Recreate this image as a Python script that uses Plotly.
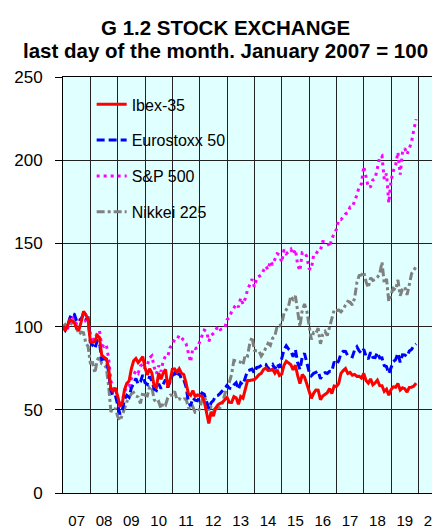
import plotly.graph_objects as go
import pandas as pd

# Monthly observations, Jan 2007 - Dec 2019 (January 2007 = 100)
months = pd.date_range("2007-01-01", "2019-12-01", freq="MS")

ibex = [
    100.0, 97.8, 100.6, 104.1, 103.5, 102.3, 98.6, 98.1, 103.0, 109.2, 107.3, 104.3,
    90.9, 90.5, 91.2, 94.8, 93.5, 82.8, 81.6, 80.4, 75.5, 62.6, 61.2, 63.2,
    58.1, 52.4, 53.7, 62.1, 65.9, 67.3, 74.6, 79.4, 80.8, 78.4, 80.0, 82.0,
    75.2, 71.0, 74.7, 72.1, 64.3, 63.6, 72.1, 68.3, 72.2, 74.3, 63.7, 67.7,
    74.3, 74.6, 72.7, 74.7, 72.0, 71.2, 66.2, 59.9, 58.7, 61.5, 58.1, 58.9,
    58.5, 58.2, 55.0, 48.2, 41.8, 48.8, 46.3, 51.0, 53.0, 53.9, 54.5, 56.1,
    57.5, 54.5, 54.4, 57.9, 57.2, 53.3, 58.0, 57.0, 63.1, 67.6, 67.6, 68.1,
    68.2, 69.5, 71.1, 71.9, 74.2, 75.1, 73.6, 73.7, 74.4, 72.0, 74.0, 70.6,
    71.5, 76.8, 79.2, 78.2, 77.1, 74.0, 76.8, 70.5, 65.7, 71.2, 69.7, 65.6,
    60.6, 56.9, 59.9, 61.9, 61.8, 56.1, 58.3, 59.5, 60.3, 62.8, 59.7, 64.3,
    64.0, 65.7, 71.9, 73.6, 74.8, 71.8, 72.5, 70.8, 71.3, 70.1, 70.2, 69.0,
    71.8, 67.6, 66.0, 68.6, 65.0, 66.1, 67.8, 64.6, 64.5, 61.1, 62.4, 58.7,
    62.2, 63.8, 63.5, 65.8, 61.9, 63.2, 62.7, 60.6, 63.5, 63.6, 64.3, 66.0,
]

eurostoxx = [
    100.0, 97.8, 100.1, 105.1, 108.0, 107.4, 103.3, 102.8, 104.8, 107.4, 105.2, 105.3,
    90.8, 89.1, 86.8, 91.6, 90.4, 80.2, 80.6, 80.5, 72.7, 62.0, 58.2, 58.6,
    53.5, 47.3, 49.6, 56.3, 58.7, 57.5, 63.1, 66.4, 68.8, 65.4, 66.9, 71.0,
    66.4, 65.3, 70.1, 67.4, 62.5, 61.6, 65.6, 62.8, 65.8, 68.1, 63.4, 66.8,
    70.7, 72.1, 69.7, 72.1, 68.5, 68.2, 63.9, 55.1, 52.2, 57.1, 55.8, 55.4,
    57.8, 60.1, 59.3, 55.2, 50.7, 54.2, 55.6, 58.4, 58.7, 59.9, 61.6, 63.1,
    64.7, 63.0, 62.8, 64.9, 66.3, 62.3, 66.2, 65.1, 69.2, 73.4, 73.9, 74.4,
    72.1, 75.4, 75.7, 76.5, 77.7, 77.3, 74.6, 75.9, 77.2, 74.5, 77.8, 75.3,
    80.2, 86.1, 88.5, 86.5, 85.4, 81.9, 86.2, 78.3, 74.2, 81.8, 83.9, 78.2,
    72.9, 70.5, 71.9, 72.5, 73.3, 68.6, 71.6, 72.3, 71.8, 73.1, 73.0, 78.8,
    77.3, 79.4, 83.8, 85.2, 85.1, 82.4, 82.5, 81.9, 86.0, 87.9, 85.4, 83.9,
    86.4, 82.3, 80.5, 84.6, 81.5, 81.3, 84.4, 81.2, 81.3, 76.5, 75.9, 71.8,
    75.6, 78.9, 80.2, 84.1, 78.5, 83.1, 83.0, 82.0, 85.4, 86.3, 88.6, 89.6,
]

sp500 = [
    100.0, 97.8, 98.8, 103.1, 106.4, 104.5, 101.2, 102.5, 106.2, 107.7, 103.0, 102.1,
    95.8, 92.5, 92.0, 96.3, 97.4, 89.0, 88.1, 89.2, 81.1, 67.4, 62.3, 62.8,
    57.4, 51.1, 55.5, 60.7, 63.9, 63.9, 68.7, 71.0, 73.5, 72.0, 76.2, 77.5,
    74.7, 76.8, 81.3, 82.5, 75.7, 71.7, 76.6, 73.0, 79.3, 82.3, 82.1, 87.4,
    89.4, 92.3, 92.2, 94.8, 93.5, 91.8, 89.9, 84.7, 78.7, 87.1, 86.7, 87.4,
    91.3, 95.0, 97.9, 97.2, 91.1, 94.7, 95.9, 97.8, 100.2, 98.2, 98.5, 99.2,
    104.2, 105.3, 109.1, 111.1, 113.4, 111.7, 117.2, 113.5, 116.9, 122.1, 125.6, 128.5,
    123.9, 129.3, 130.2, 131.0, 133.7, 136.3, 134.2, 139.3, 137.1, 140.3, 143.8, 143.2,
    138.7, 146.3, 143.8, 145.0, 146.5, 143.4, 146.3, 137.1, 133.5, 144.6, 144.6, 142.1,
    134.9, 134.3, 143.2, 143.6, 145.8, 145.9, 151.1, 150.9, 150.8, 147.8, 152.9, 155.7,
    158.4, 164.3, 164.3, 165.8, 167.7, 168.5, 171.8, 171.9, 175.2, 179.1, 184.1, 185.9,
    196.3, 188.7, 183.6, 184.1, 188.1, 189.0, 195.8, 201.7, 202.6, 188.5, 191.9, 174.3,
    188.0, 193.6, 197.1, 204.8, 191.3, 204.5, 207.2, 203.5, 207.0, 211.2, 218.4, 224.6,
]

nikkei = [
    100.0, 101.3, 99.5, 100.1, 102.8, 104.3, 99.2, 95.3, 96.6, 96.3, 90.2, 88.1,
    78.2, 78.3, 72.1, 79.7, 82.5, 77.6, 77.0, 75.2, 64.8, 49.3, 49.0, 51.0,
    46.0, 43.5, 46.7, 50.8, 54.8, 57.3, 59.6, 60.4, 58.3, 57.7, 53.8, 60.7,
    58.7, 58.3, 63.8, 63.6, 56.2, 54.0, 54.9, 50.8, 53.9, 52.9, 57.2, 58.8,
    58.9, 61.1, 56.1, 56.7, 55.8, 56.5, 56.6, 51.5, 50.0, 51.7, 48.5, 48.6,
    50.6, 55.9, 58.0, 54.8, 49.1, 51.8, 50.0, 50.9, 51.0, 51.4, 54.3, 59.8,
    64.1, 66.5, 71.3, 79.7, 79.2, 78.7, 78.6, 77.0, 83.2, 82.4, 90.1, 93.7,
    85.8, 85.4, 85.3, 82.3, 84.2, 87.2, 89.9, 88.7, 93.0, 94.4, 100.4, 100.4,
    101.7, 108.1, 110.5, 112.3, 118.3, 116.4, 118.4, 108.7, 100.0, 109.8, 113.6, 109.5,
    100.8, 92.2, 96.4, 95.9, 99.1, 89.6, 95.3, 97.1, 94.6, 100.2, 105.3, 110.0,
    109.5, 110.0, 108.8, 110.4, 113.0, 115.2, 114.6, 113.0, 117.1, 126.6, 130.7, 131.0,
    132.9, 127.0, 123.4, 129.3, 127.7, 128.3, 129.7, 131.5, 138.8, 126.1, 128.6, 115.1,
    119.5, 123.0, 122.0, 128.1, 118.5, 122.4, 123.8, 119.1, 125.2, 131.9, 134.0, 136.1,
]

year_labels = ["07", "08", "09", "10", "11", "12", "13", "14", "15", "16", "17", "18", "19", "20"]
years = list(range(2007, 2021))

# decimal-year position of each monthly observation
xpos = [d.year + (d.month - 1) / 12 for d in months]

FONT = "Liberation Sans, Arial, sans-serif"

series = [
    ("Ibex-35", ibex, "#FF0000", "solid", 1),
    ("Eurostoxx 50", eurostoxx, "#0000FF", "8px,4px", 2),
    ("S&P 500", sp500, "#FF00FF", "3px,4px", 3),
    ("Nikkei 225", nikkei, "#808080", "8px,3px,3px,3px", 4),
]

fig = go.Figure()
for name, vals, color, dash, rank in reversed(series):
    fig.add_trace(go.Scatter(
        x=xpos, y=vals, mode="lines", name=name,
        line=dict(color=color, width=3, dash=dash),
        legendgroup=name, legendrank=rank,
    ))

# page body has an 8px margin; figure is sized so the page matches 440x529
W, H = 432, 521
L, T, B = 55, 69, 29
PW, PH = W - L, H - T - B

grid_col = "#222222"
fig.update_layout(
    width=W, height=H,
    margin=dict(l=L, r=0, t=T, b=B, pad=0),
    paper_bgcolor="white",
    plot_bgcolor="#E0FFFF",
    font=dict(family=FONT, size=15, color="black"),
    showlegend=True,
    legend=dict(
        x=0.076, y=0.975, xanchor="left", yanchor="top",
        bgcolor="rgba(0,0,0,0)", font=dict(size=16, family=FONT),
        tracegroupgap=12,
    ),
    xaxis=dict(
        range=[2007, 2007 + PW / 27.34],
        tickmode="array",
        tickvals=[y + 0.5 for y in years],
        ticktext=year_labels,
        ticks="", showgrid=False, zeroline=False,
        showline=True, linecolor="black", linewidth=1, mirror=True,
        tickfont=dict(size=15, family=FONT),
        ticklabelstandoff=14,
        ticklabeloverflow="allow",
        minor=dict(tickvals=years[1:], showgrid=True, gridcolor=grid_col, gridwidth=1, ticks=""),
    ),
    yaxis=dict(
        range=[0, 250], tickmode="linear", tick0=0, dtick=50,
        ticks="outside", ticklen=7, tickcolor="black", tickwidth=1,
        showgrid=True, gridcolor=grid_col, gridwidth=1, zeroline=False,
        showline=True, linecolor="black", linewidth=1,
        tickfont=dict(size=17, family=FONT),
        ticklabelstandoff=9,
    ),
    annotations=[
        dict(text="<b>G 1.2 STOCK EXCHANGE</b>", xref="paper", yref="paper",
             x=(225 - 63) / PW, y=(500 - 27) / PH, xanchor="center", yanchor="middle",
             showarrow=False, font=dict(size=20.5, family=FONT, color="black")),
        dict(text="<b>last day of the month. January 2007 = 100</b>", xref="paper", yref="paper",
             x=(225 - 63) / PW, y=(500 - 50) / PH, xanchor="center", yanchor="middle",
             showarrow=False, font=dict(size=20.5, family=FONT, color="black")),
    ],
)

fig.write_html("out.html")
